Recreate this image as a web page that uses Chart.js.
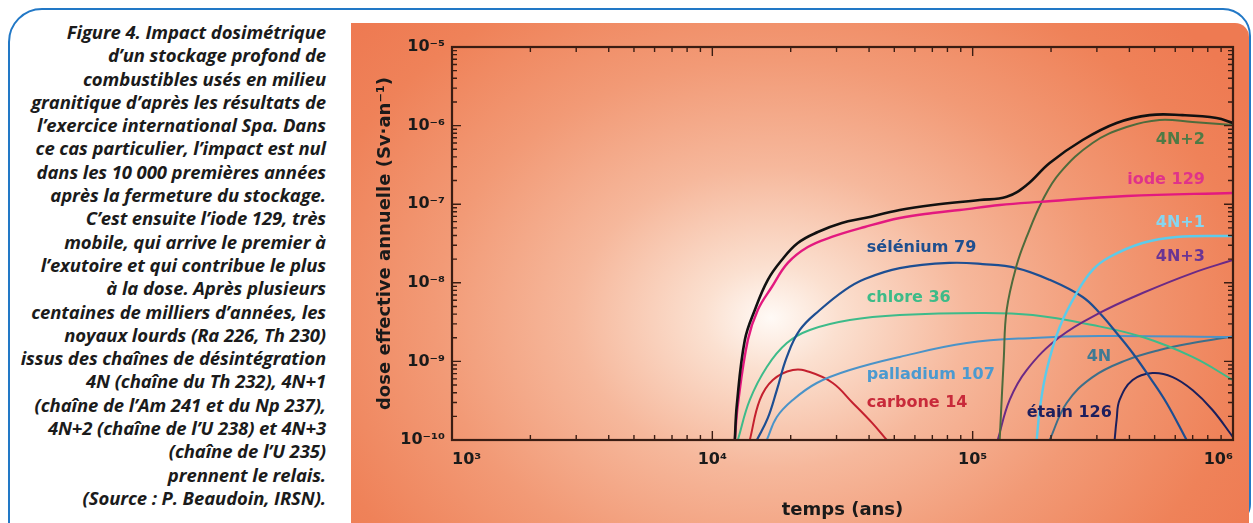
<!DOCTYPE html>
<html lang="fr">
<head>
<meta charset="utf-8">
<title>Impact dosimétrique d'un stockage profond</title>
<script src="https://cdn.jsdelivr.net/npm/chart.js@4.4.1/dist/chart.umd.min.js"></script>
<style>
    html, body { margin: 0; padding: 0; background: #fff; }
    body { width: 1253px; height: 523px; position: relative; overflow: hidden; }
    #frame {
        position: absolute; left: 8px; top: 8px; width: 1243px; height: 518px;
        box-sizing: border-box; border: 2px solid #2278c6;
        border-radius: 34px 28px 22px 0;
    }
    #panel {
        position: absolute; left: 351px; top: 23px; width: 898px; height: 500px;
        border-top-right-radius: 14px;
        background: radial-gradient(ellipse 560px 430px at 420px 295px,
            #fffaf6 0%, #fbe0d0 12%, #f6b89c 35%, #f29a76 60%, #ef8259 85%, #ee7a52 100%);
    }
    #caption {
        position: absolute; left: 0; top: 20px; width: 326px;
        text-align: right; color: #1b1b1b; letter-spacing: -0.1px;
        font: italic 700 18.5px/23.3px "Open Sans", sans-serif;
        white-space: nowrap;
    }
    #chart-box { position: absolute; left: 0; top: 0; width: 1253px; height: 523px; }
</style>
</head>
<body>
<div id="frame"></div>
<div id="panel"></div>
<div id="caption">
Figure 4. Impact dosimétrique<br>
d’un stockage profond de<br>
combustibles usés en milieu<br>
granitique d’après les résultats de<br>
l’exercice international Spa. Dans<br>
ce cas particulier, l’impact est nul<br>
dans les 10 000 premières années<br>
après la fermeture du stockage.<br>
C’est ensuite l’iode 129, très<br>
mobile, qui arrive le premier à<br>
l’exutoire et qui contribue le plus<br>
à la dose. Après plusieurs<br>
centaines de milliers d’années, les<br>
noyaux lourds (Ra 226, Th 230)<br>
issus des chaînes de désintégration<br>
4N (chaîne du Th 232), 4N+1<br>
(chaîne de l’Am 241 et du Np 237),<br>
4N+2 (chaîne de l’U 238) et 4N+3<br>
(chaîne de l’U 235)<br>
prennent le relais.<br>
(Source : P. Beaudoin, IRSN).
</div>
<div id="chart-box"><canvas id="dose-chart" width="1253" height="523"></canvas></div>

<script>
// Axis ticks (powers of ten)
const xTickValues = [1e3, 1e4, 1e5, 1e6];
const yTickValues = [1e-10, 1e-9, 1e-8, 1e-7, 1e-6, 1e-5];

// Series: time (years) and annual effective dose (Sv/an)
const totalTime = [12200, 12420, 13330, 14560, 16340, 18490, 21300, 25420, 31420, 38500, 52470, 70240, 106400, 135100, 161200, 197600, 264500, 357200, 478200, 640200, 864900, 1000000];
const totalDose = [1e-10, 2.79e-10, 1.87e-9, 4.51e-9, 1.09e-8, 1.95e-8, 3.21e-8, 4.43e-8, 5.77e-8, 6.67e-8, 8.44e-8, 9.77e-8, 1.13e-7, 1.24e-7, 1.75e-7, 3.34e-7, 6.56e-7, 1.08e-6, 1.36e-6, 1.36e-6, 1.25e-6, 1.08e-6];

const iodeTime = [12200, 12530, 13690, 14950, 16920, 19500, 23260, 28760, 38500, 52470, 70240, 89200, 127000, 180900, 390200, 1000000];
const iodeDose = [1e-10, 2.79e-10, 1.87e-9, 4.51e-9, 8.84e-9, 1.79e-8, 2.85e-8, 3.83e-8, 5.13e-8, 6.67e-8, 7.73e-8, 8.44e-8, 9.77e-8, 1.07e-7, 1.27e-7, 1.39e-7];

const seleniumTime = [14830, 16340, 17690, 19330, 21680, 25870, 32270, 38500, 52470, 81600, 109200, 147500, 197600, 264500, 307300, 357200, 411600, 478200, 555800, 663300];
const seleniumDose = [1e-10, 1.91e-10, 4.32e-10, 1.14e-9, 2.51e-9, 4.51e-9, 8.09e-9, 1.12e-8, 1.54e-8, 1.79e-8, 1.73e-8, 1.54e-8, 1.09e-8, 6.60e-9, 4.13e-9, 2.30e-9, 1.28e-9, 6.32e-10, 2.96e-10, 1e-10];

const chloreTime = [12530, 13930, 16190, 19330, 23680, 33730, 52470, 106400, 170000, 288800, 449400, 698900, 1000000];
const chloreDose = [1e-10, 3.23e-10, 8.49e-10, 1.71e-9, 2.51e-9, 3.36e-9, 3.89e-9, 4.13e-9, 3.89e-9, 2.90e-9, 2.04e-9, 1.14e-9, 5.79e-10];

const carboneTime = [13930, 15220, 17070, 20380, 23680, 29010, 34630, 41090, 46770];
const carboneDose = [1e-10, 3.23e-10, 5.79e-10, 7.76e-10, 7.32e-10, 5.31e-10, 2.96e-10, 1.65e-10, 1e-10];

const palladiumTime = [16190, 17690, 20380, 25190, 33730, 52470, 94850, 170000, 307300, 1000000];
const palladiumDose = [1e-10, 1.96e-10, 3.23e-10, 5.31e-10, 7.76e-10, 1.14e-9, 1.71e-9, 1.99e-9, 2.10e-9, 2.04e-9];

const chain4NTime = [197600, 229600, 288800, 390200, 522400, 698900, 1000000];
const chain4NDose = [1e-10, 2.96e-10, 6.32e-10, 1.04e-9, 1.40e-9, 1.71e-9, 2.08e-9];

const chain4N1Time = [176200, 180900, 192400, 215900, 250800, 288900, 335700, 449400, 607300, 1000000];
const chain4N1Dose = [1e-10, 2.41e-10, 7.76e-10, 2.74e-9, 7.41e-9, 1.46e-8, 2.13e-8, 3.21e-8, 3.83e-8, 3.94e-8];

const chain4N2Time = [127000, 128100, 131600, 135100, 147600, 161200, 185800, 215900, 288800, 390200, 522400, 698900, 1000000];
const chain4N2Dose = [1e-10, 1.80e-10, 1.04e-9, 4.51e-9, 1.68e-8, 3.83e-8, 1.13e-7, 2.49e-7, 6.01e-7, 9.59e-7, 1.18e-6, 1.11e-6, 1.02e-6];

const chain4N3Time = [124800, 138700, 161200, 215900, 307300, 449400, 698900, 1000000];
const chain4N3Dose = [1e-10, 3.23e-10, 7.76e-10, 2.04e-9, 4.13e-9, 7.41e-9, 1.33e-8, 1.95e-8];

const etainTime = [351000, 357200, 366800, 411600, 491000, 586200, 698900, 834400, 1000000];
const etainDose = [1e-10, 1.80e-10, 3.23e-10, 5.79e-10, 7.11e-10, 6.32e-10, 4.32e-10, 2.41e-10, 1.09e-10];

/**
 * DoseChart module
 * Builds the log-log dose chart and its decorations
 */
const DoseChart = (function() {
    'use strict';

    const INK = '#3a1d13';
    const SUP = { '-': '\u207B', '0': '\u2070', '1': '\u00B9', '2': '\u00B2', '3': '\u00B3', '4': '\u2074',
                  '5': '\u2075', '6': '\u2076', '7': '\u2077', '8': '\u2078', '9': '\u2079' };

    // Curve name labels, anchored in data coordinates
    const curveLabels = [
        { text: '4N+2', t: 780000, d: 6.56e-7, color: '#4f7a45', align: 'right' },
        { text: 'iode 129', t: 780000, d: 2.03e-7, color: '#e0338a', align: 'right' },
        { text: '4N+1', t: 780000, d: 5.77e-8, color: '#86d6f0', align: 'right' },
        { text: '4N+3', t: 780000, d: 2.13e-8, color: '#6a3494', align: 'right' },
        { text: 'sélénium 79', t: 39200, d: 2.77e-8, color: '#1f4f8f', align: 'left' },
        { text: 'chlore 36', t: 39200, d: 6.41e-9, color: '#3dbb88', align: 'left' },
        { text: 'palladium 107', t: 39200, d: 6.71e-10, color: '#4b9ad0', align: 'left' },
        { text: 'carbone 14', t: 39200, d: 2.96e-10, color: '#c82a3a', align: 'left' },
        { text: '4N', t: 274000, d: 1.14e-9, color: '#3f7a94', align: 'left' },
        { text: 'étain 126', t: 161200, d: 2.20e-10, color: '#1e1f5e', align: 'left' }
    ];

    function zip(times, doses) {
        return times.map((t, i) => ({ x: t, y: doses[i] }));
    }

    function line(label, times, doses, color, width) {
        return {
            label: label,
            data: zip(times, doses),
            borderColor: color,
            borderWidth: width || 2,
            pointRadius: 0,
            fill: false,
            tension: 0.4
        };
    }

    function powerLabel(value) {
        const exp = String(Math.round(Math.log10(value)));
        return '10' + exp.split('').map(c => SUP[c]).join('');
    }

    // Frame with inward minor/major ticks on all four sides, plus curve labels
    const decorations = {
        id: 'decorations',
        afterDatasetsDraw(chart) {
            const { ctx, chartArea: a, scales: { x, y } } = chart;
            ctx.save();
            ctx.strokeStyle = INK;
            ctx.lineWidth = 1.4;
            ctx.beginPath();
            for (let e = 3; e < 6; e++) {
                for (let k = 1; k <= 9; k++) {
                    const px = x.getPixelForValue(k * Math.pow(10, e));
                    const len = k === 1 ? 9 : 5;
                    ctx.moveTo(px, a.bottom); ctx.lineTo(px, a.bottom - len);
                    ctx.moveTo(px, a.top); ctx.lineTo(px, a.top + len);
                }
            }
            for (let e = -10; e < -5; e++) {
                for (let k = 1; k <= 9; k++) {
                    const py = y.getPixelForValue(k * Math.pow(10, e));
                    const len = k === 1 ? 9 : 5;
                    ctx.moveTo(a.left, py); ctx.lineTo(a.left + len, py);
                    ctx.moveTo(a.right, py); ctx.lineTo(a.right - len, py);
                }
            }
            ctx.stroke();
            ctx.lineWidth = 2.2;
            ctx.strokeRect(a.left, a.top, a.right - a.left, a.bottom - a.top);

            ctx.font = '700 16px "DejaVu Sans", sans-serif';
            ctx.textBaseline = 'middle';
            curveLabels.forEach(l => {
                ctx.fillStyle = l.color;
                ctx.textAlign = l.align;
                ctx.fillText(l.text, x.getPixelForValue(l.t), y.getPixelForValue(l.d));
            });
            ctx.restore();
        }
    };

    function initialize() {
        const canvas = document.getElementById('dose-chart');
        return new Chart(canvas, {
            type: 'line',
            data: {
                datasets: [
                    line('total', totalTime, totalDose, '#111111', 2.6),
                    line('iode 129', iodeTime, iodeDose, '#e3197f', 2.4),
                    line('4N+2', chain4N2Time, chain4N2Dose, '#4e6b3c', 2),
                    line('4N+1', chain4N1Time, chain4N1Dose, '#5ccbea', 2.4),
                    line('4N+3', chain4N3Time, chain4N3Dose, '#6b2a86', 2),
                    line('sélénium 79', seleniumTime, seleniumDose, '#1d4e92', 2.2),
                    line('chlore 36', chloreTime, chloreDose, '#3dbb8a', 2),
                    line('palladium 107', palladiumTime, palladiumDose, '#4a93c8', 2),
                    line('carbone 14', carboneTime, carboneDose, '#c4202e', 2),
                    line('4N', chain4NTime, chain4NDose, '#3d6f8a', 2),
                    line('étain 126', etainTime, etainDose, '#1b1f5c', 2)
                ]
            },
            options: {
                responsive: false,
                animation: false,
                layout: { padding: { left: 352, top: 47, right: 20, bottom: 0 } },
                plugins: { legend: { display: false }, tooltip: { enabled: false } },
                scales: {
                    x: {
                        type: 'logarithmic',
                        min: 1e3,
                        max: 1e6,
                        grid: { display: false, drawTicks: false },
                        border: { display: false },
                        afterBuildTicks: s => { s.ticks = xTickValues.map(v => ({ value: v })); },
                        afterFit: s => { s.height = 83; },
                        ticks: {
                            align: 'inner',
                            autoSkip: false,
                            maxRotation: 0,
                            padding: 10,
                            color: '#1a1a1a',
                            font: { family: '"DejaVu Sans", sans-serif', size: 16, weight: '700' },
                            callback: v => powerLabel(v)
                        },
                        title: {
                            display: true,
                            text: 'temps (ans)',
                            color: '#1a1a1a',
                            font: { family: '"DejaVu Sans", sans-serif', size: 18, weight: '700' },
                            padding: { top: 0, bottom: 2 }
                        }
                    },
                    y: {
                        type: 'logarithmic',
                        min: 1e-10,
                        max: 1e-5,
                        grid: { display: false, drawTicks: false },
                        border: { display: false },
                        afterBuildTicks: s => { s.ticks = yTickValues.map(v => ({ value: v })); },
                        afterFit: s => { s.width = 100; },
                        ticks: {
                            autoSkip: false,
                            padding: 7,
                            color: '#1a1a1a',
                            font: { family: '"DejaVu Sans", sans-serif', size: 16, weight: '700' },
                            callback: v => powerLabel(v)
                        },
                        title: {
                            display: true,
                            text: 'dose effective annuelle (Sv\u00B7an\u207B\u00B9)',
                            color: '#1a1a1a',
                            font: { family: '"DejaVu Sans", sans-serif', size: 18, weight: '700' },
                            padding: { top: 23, bottom: 0 }
                        }
                    }
                }
            },
            plugins: [decorations]
        });
    }

    return { initialize };
})();

DoseChart.initialize();
</script>
</body>
</html>
